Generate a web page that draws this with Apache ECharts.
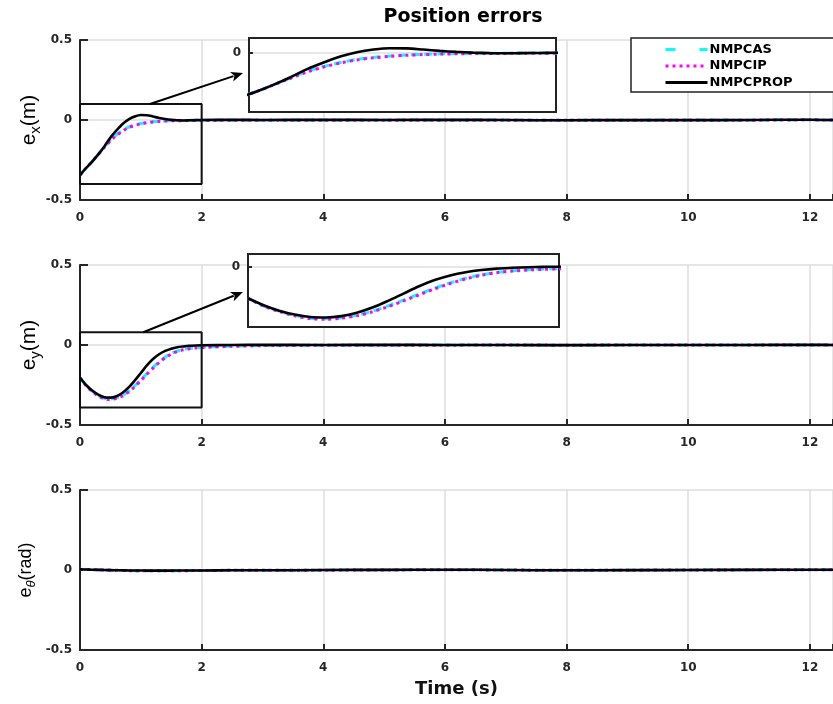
<!DOCTYPE html>
<html>
<head>
<meta charset="utf-8">
<script src="https://cdn.jsdelivr.net/npm/echarts@6/dist/echarts.min.js"></script>
<style>
  html, body { margin: 0; padding: 0; background: #fff; }
  #chart { width: 833px; height: 704px; }
</style>
</head>
<body>
<div id="chart"></div>
<script>
// time samples (s)
const time = [0, 0.1, 0.2, 0.3, 0.4, 0.5, 0.6, 0.7, 0.8, 0.9, 1.0, 1.1, 1.2, 1.3, 1.4, 1.5, 1.6, 1.7, 1.8, 1.9, 2.0,
  2.5, 3, 4, 5, 6, 7, 8, 9, 10, 11, 12, 12.5];

// e_x (m)
const exAS = [-0.345, -0.30, -0.26, -0.215, -0.170, -0.126, -0.092, -0.066, -0.045, -0.031, -0.022, -0.015, -0.010, -0.007, -0.005, -0.004, -0.003, -0.003, -0.002, -0.002, -0.002,
  -0.002, -0.001, -0.001, 0.0, -0.001, 0.0, -0.002, -0.001, 0.0, -0.001, 0.001, 0.0];
const exIP = [-0.345, -0.30, -0.26, -0.216, -0.172, -0.130, -0.096, -0.069, -0.048, -0.034, -0.024, -0.017, -0.012, -0.009, -0.007, -0.005, -0.004, -0.004, -0.003, -0.003, -0.003,
  -0.002, -0.002, -0.001, -0.001, -0.001, -0.001, -0.002, -0.001, -0.001, -0.001, 0.001, -0.001];
const exPROP = [-0.345, -0.30, -0.26, -0.215, -0.165, -0.11, -0.065, -0.025, 0.004, 0.022, 0.031, 0.030, 0.022, 0.013, 0.006, 0.001, -0.002, -0.003, -0.002, -0.001, 0.0,
  0.001, 0.0, 0.001, 0.0, 0.001, 0.0, -0.002, 0.0, -0.001, 0.0, 0.002, -0.001];

// e_y (m)
const eyAS = [-0.205, -0.254, -0.288, -0.315, -0.333, -0.337, -0.33, -0.314, -0.288, -0.255, -0.217, -0.178, -0.14, -0.106, -0.077, -0.054, -0.038, -0.028, -0.021, -0.017, -0.014,
  -0.007, -0.003, -0.002, -0.001, 0.0, 0.0, -0.001, 0.0, 0.0, 0.0, 0.0, 0.0];
const eyIP = [-0.205, -0.255, -0.29, -0.318, -0.336, -0.34, -0.333, -0.318, -0.292, -0.26, -0.222, -0.183, -0.145, -0.11, -0.08, -0.057, -0.04, -0.03, -0.023, -0.019, -0.016,
  -0.008, -0.004, -0.002, -0.001, -0.001, 0.0, -0.001, 0.0, 0.0, 0.0, 0.0, 0.0];
const eyPROP = [-0.205, -0.25, -0.285, -0.31, -0.326, -0.329, -0.32, -0.298, -0.265, -0.222, -0.175, -0.128, -0.088, -0.058, -0.037, -0.023, -0.014, -0.009, -0.005, -0.003, -0.002,
  0.0, 0.001, 0.0, 0.001, 0.0, 0.0, -0.001, 0.0, 0.0, 0.0, 0.001, 0.0];

// e_theta (rad)
const ethAS = [0.004, 0.003, 0.002, 0.001, 0.0, -0.001, -0.002, -0.003, -0.003, -0.004, -0.004, -0.004, -0.005, -0.005, -0.005, -0.004, -0.004, -0.004, -0.003, -0.003, -0.003,
  -0.002, -0.002, -0.001, 0.001, 0.002, 0.0, -0.002, -0.001, 0.0, 0.001, 0.002, 0.001];
const ethIP = [0.004, 0.003, 0.002, 0.001, 0.0, -0.001, -0.002, -0.003, -0.004, -0.004, -0.004, -0.005, -0.005, -0.005, -0.005, -0.005, -0.004, -0.004, -0.004, -0.003, -0.003,
  -0.002, -0.002, -0.001, 0.0, 0.002, 0.0, -0.002, -0.001, 0.0, 0.001, 0.002, 0.001];
const ethPROP = [0.004, 0.003, 0.002, 0.001, 0.0, -0.001, -0.002, -0.002, -0.003, -0.003, -0.003, -0.004, -0.004, -0.004, -0.004, -0.004, -0.003, -0.003, -0.003, -0.003, -0.003,
  -0.002, -0.002, 0.0, 0.001, 0.002, 0.0, -0.002, -0.001, 0.0, 0.001, 0.002, 0.001];

const names = ['NMPCAS', 'NMPCIP', 'NMPCPROP'];
const xTicks = [0, 2, 4, 6, 8, 10, 12];

// zoomed regions: [xmin, xmax, ymin, ymax]
const zoomBox1 = [0, 2, -0.4, 0.1];
const zoomBox2 = [0, 2, -0.39, 0.08];
const insetX1 = [0.15, 2];
const insetX2 = [0, 2];
// arrows: start on the box (data), end height inside the inset (data)
const arrowFrom1 = [1.15, 0.1];
const arrowTo1 = -0.136;
const arrowFrom2 = [1.04, 0.08];
const arrowTo2 = -0.165;

const lineStyles = {
  NMPCAS: { color: '#00ffff', width: 3, type: [8, 5] },
  NMPCIP: { color: '#ff00ff', width: 3, type: [3, 4] },
  NMPCPROP: { color: '#000000', width: 2.6, type: 'solid' }
};

const dark = '#262626';
const gridGray = '#dedede';
const tickFont = { fontFamily: 'DejaVu Sans', fontWeight: 'bold', fontSize: 12, color: dark };

function zip(xs, ys) {
  return xs.map((x, i) => [x, ys[i]]);
}

function boxData(b) {
  return [[b[0], b[3]], [b[1], b[3]], [b[1], b[2]], [b[0], b[2]], [b[0], b[3]]];
}

function mainX(i, withName) {
  return {
    type: 'value', gridIndex: i, min: 0, max: 12.38, interval: 2,
    axisLine: { onZero: false, lineStyle: { color: dark, width: 2 } },
    axisTick: { inside: true, length: 6, lineStyle: { color: dark, width: 2 } },
    axisLabel: Object.assign({ margin: 12, formatter: v => (xTicks.indexOf(v) >= 0 ? String(v) : '') }, tickFont),
    splitLine: { show: true, lineStyle: { color: gridGray, width: 1.5 } },
    name: withName ? 'Time (s)' : '',
    nameLocation: 'middle', nameGap: 30, nameMoveOverlap: false,
    nameTextStyle: { fontFamily: 'DejaVu Sans', fontWeight: 'bold', fontSize: 18, color: '#111' }
  };
}

function mainY(i, name, gap, rich) {
  return {
    type: 'value', gridIndex: i, min: -0.5, max: 0.5, interval: 0.5,
    axisLine: { show: true, lineStyle: { color: dark, width: 2 } },
    axisTick: { show: true, inside: true, length: 8, lineStyle: { color: dark, width: 2 } },
    axisLabel: Object.assign({ margin: 8 }, tickFont),
    splitLine: { show: true, lineStyle: { color: gridGray, width: 1.5 } },
    name: name, nameLocation: 'middle', nameGap: gap, nameMoveOverlap: false,
    nameTextStyle: { rich: rich }
  };
}

const richXY = {
  a: { fontFamily: 'Liberation Sans', fontSize: 21, color: '#000' },
  b: { fontFamily: 'Liberation Sans', fontSize: 15, color: '#000', padding: [12, 0, 0, 0] }
};
const richTh = {
  a: { fontFamily: 'Liberation Sans', fontSize: 18, color: '#000' },
  b: { fontFamily: 'Liberation Sans', fontSize: 13, fontStyle: 'italic', color: '#000', padding: [11, 0, 0, 0] }
};

function insetX(i, range) {
  return { type: 'value', gridIndex: i, min: range[0], max: range[1], show: false, z: 4 };
}

function insetY(i, box) {
  return {
    type: 'value', gridIndex: i, min: box[2], max: box[3], interval: -box[2], z: 4,
    axisLine: { show: false },
    axisTick: { show: true, inside: true, length: 4, lineStyle: { color: dark, width: 2 } },
    axisLabel: Object.assign({ margin: 8, formatter: v => (v === 0 ? '0' : '') }, tickFont),
    splitLine: { show: true, showMinLine: false, showMaxLine: false, lineStyle: { color: gridGray, width: 1.5 } }
  };
}

const panelData = [
  [exAS, exIP, exPROP],
  [eyAS, eyIP, eyPROP],
  [ethAS, ethIP, ethPROP]
];

const series = [];
function addCurves(vals, axisIdx, z) {
  vals.forEach((v, k) => {
    const n = names[k];
    series.push({
      name: n, type: 'line', xAxisIndex: axisIdx, yAxisIndex: axisIdx,
      data: zip(time, v), symbol: 'none', smooth: 0.3, z: z, silent: true,
      lineStyle: lineStyles[n]
    });
  });
}
panelData.forEach((vals, i) => addCurves(vals, i, 2));
addCurves(panelData[0], 3, 5);
addCurves(panelData[1], 4, 5);

[zoomBox1, zoomBox2].forEach((b, i) => {
  series.push({
    type: 'line', xAxisIndex: i, yAxisIndex: i, data: boxData(b), symbol: 'none',
    clip: false, silent: true, z: 3,
    lineStyle: { color: '#111', width: 2 }
  });
});

const insetGrid = { show: true, z: 3, backgroundColor: '#fff', borderColor: '#222', borderWidth: 2, outerBoundsMode: 'none' };

const chart = echarts.init(document.getElementById('chart'));
chart.setOption({
  animation: false,
  backgroundColor: '#fff',
  title: {
    text: 'Position errors', left: 463, top: 8, textAlign: 'center', padding: 0,
    textStyle: { fontFamily: 'DejaVu Sans', fontWeight: 'bold', fontSize: 19, color: '#000' }
  },
  legend: {
    data: [
      { name: 'NMPCAS', lineStyle: { type: [10, 24] } },
      { name: 'NMPCIP' },
      { name: 'NMPCPROP' }
    ],
    orient: 'vertical', left: 631, top: 38,
    padding: [5, 200, 3, 33], itemGap: 3.5, itemWidth: 42, itemHeight: 12,
    itemStyle: { color: 'rgba(0,0,0,0)', borderWidth: 0, borderColor: 'rgba(0,0,0,0)' },
    lineStyle: { width: 3 },
    backgroundColor: '#fff', borderColor: '#222', borderWidth: 1.5, borderRadius: 0,
    textStyle: { fontFamily: 'DejaVu Sans', fontWeight: 'bold', fontSize: 13, color: '#000', padding: [0, 0, 0, -3] }
  },
  grid: [
    { left: 80, right: 0, top: 40, height: 160, outerBoundsMode: 'none' },
    { left: 80, right: 0, top: 265, height: 160, outerBoundsMode: 'none' },
    { left: 80, right: 0, top: 490, height: 160, outerBoundsMode: 'none' },
    Object.assign({ left: 249, top: 38, width: 307, height: 74 }, insetGrid),
    Object.assign({ left: 248, top: 254, width: 311, height: 73 }, insetGrid)
  ],
  xAxis: [mainX(0, false), mainX(1, false), mainX(2, true), insetX(3, insetX1), insetX(4, insetX2)],
  yAxis: [
    mainY(0, '{a|e}{b|x}{a|(m)}', 37, richXY),
    mainY(1, '{a|e}{b|y}{a|(m)}', 37, richXY),
    mainY(2, '{a|e}{b|θ}{a|(rad)}', 42, richTh),
    insetY(3, zoomBox1),
    insetY(4, zoomBox2)
  ],
  series: series
});

// arrows from zoom boxes to insets
function arrow(from, to) {
  const dx = to[0] - from[0], dy = to[1] - from[1];
  const len = Math.sqrt(dx * dx + dy * dy);
  const ux = dx / len, uy = dy / len;
  const L = 12, W = 5;
  const bx = to[0] - ux * L, by = to[1] - uy * L;
  return [
    { type: 'line', z: 10, silent: true,
      shape: { x1: from[0], y1: from[1], x2: bx + ux * 2, y2: by + uy * 2 },
      style: { stroke: '#000', lineWidth: 2 } },
    { type: 'polygon', z: 10, silent: true,
      shape: { points: [[to[0], to[1]], [bx - uy * W, by + ux * W], [bx + ux * 3, by + uy * 3], [bx + uy * W, by - ux * W]] },
      style: { fill: '#000' } }
  ];
}
const s1 = chart.convertToPixel({ gridIndex: 0 }, arrowFrom1);
const e1 = chart.convertToPixel({ gridIndex: 3 }, [insetX1[0], arrowTo1]);
const s2 = chart.convertToPixel({ gridIndex: 1 }, arrowFrom2);
const e2 = chart.convertToPixel({ gridIndex: 4 }, [insetX2[0], arrowTo2]);
chart.setOption({
  graphic: arrow(s1, [e1[0] - 6, e1[1]]).concat(arrow(s2, [e2[0] - 5, e2[1]]))
});
</script>
</body>
</html>
